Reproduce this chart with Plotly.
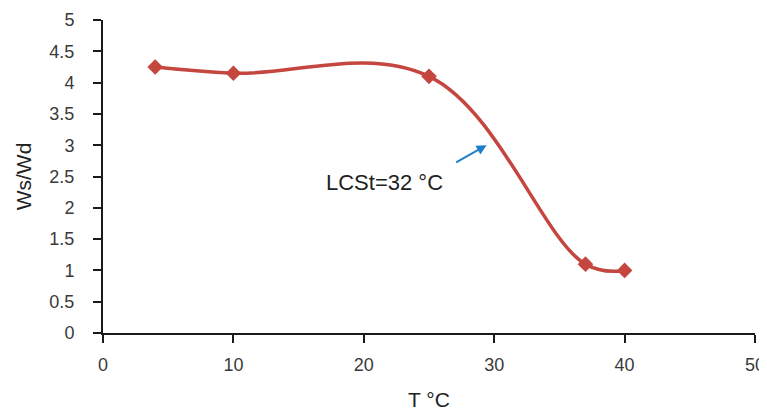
import plotly.graph_objects as go

temps = [4, 10, 25, 37, 40]
ratio = [4.25, 4.15, 4.1, 1.1, 1.0]
x_ticks = [0, 10, 20, 30, 40, 50]
y_ticks = [0, 0.5, 1, 1.5, 2, 2.5, 3, 3.5, 4, 4.5, 5]
y_tick_labels = ["0", "0.5", "1", "1.5", "2", "2.5", "3", "3.5", "4", "4.5", "5"]

line_color = "#c4463f"
axis_color = "#1a1a1a"
text_color = "#3a3a3a"
font_family = "Liberation Sans, Arial"

fig = go.Figure()
fig.add_trace(go.Scatter(
    x=temps, y=ratio, mode="lines+markers",
    line=dict(color=line_color, width=3.5, shape="spline", smoothing=1.1),
    marker=dict(symbol="diamond", size=12, color=line_color),
    showlegend=False,
))

fig.add_annotation(x=29.42, y=3.0, xref="x", yref="y", ax=-32, ay=18,
                   showarrow=True, arrowhead=2, arrowsize=1, arrowwidth=2,
                   arrowcolor="#1f80c8", text="")
fig.add_annotation(x=21.6, y=2.41, xref="x", yref="y", showarrow=False,
                   text="LCSt=32 °C",
                   font=dict(family=font_family, size=22, color="#222222"))

fig.update_layout(
    width=759, height=404,
    margin=dict(l=95, r=12, t=12, b=79),
    plot_bgcolor="white", paper_bgcolor="white",
    font=dict(family=font_family, color=text_color),
)
fig.update_xaxes(
    range=[0, 50], tickvals=x_ticks, ticks="outside", ticklen=8, tickwidth=2,
    tickcolor=axis_color, showline=True, linecolor=axis_color, linewidth=2,
    showgrid=False, zeroline=False, tickfont=dict(size=18, color=text_color),
    ticklabelstandoff=6, automargin=False,
    title=dict(text="T °C", font=dict(size=21, color="#222222"), standoff=19),
)
fig.update_yaxes(
    range=[0, 5], tickvals=y_ticks, ticktext=y_tick_labels, ticks="outside",
    ticklen=8, tickwidth=2, tickcolor=axis_color, showline=True,
    linecolor=axis_color, linewidth=2, showgrid=False, zeroline=False,
    tickfont=dict(size=18, color=text_color), ticklabelstandoff=15,
    automargin=False,
    title=dict(text="Ws/Wd", font=dict(size=21, color="#222222"), standoff=12),
)

fig.write_html("out.html")
